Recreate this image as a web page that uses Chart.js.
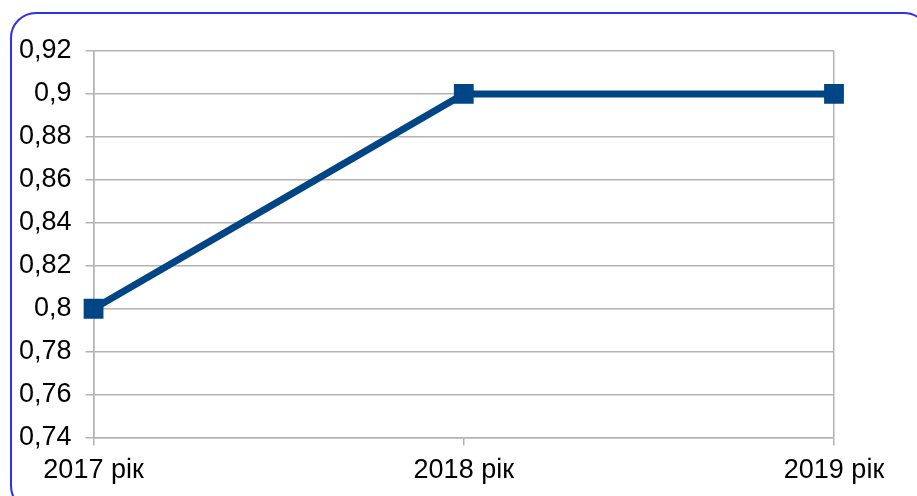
<!DOCTYPE html>
<html>
<head>
<meta charset="utf-8">
<script src="https://cdn.jsdelivr.net/npm/chart.js@4/dist/chart.umd.min.js"></script>
<style>
html,body{margin:0;padding:0;background:#fff;}
#wrap{position:relative;width:917px;height:496px;overflow:hidden;}
#frame{position:absolute;left:10px;top:12px;width:920px;height:500px;border:2px solid #3030e8;border-radius:26px;box-sizing:border-box;}
canvas{position:absolute;left:0;top:0;}
</style>
</head>
<body>
<div id="wrap">
<div id="frame"></div>
<canvas id="c" width="917" height="496"></canvas>
</div>
<script>
const categories = ['2017 рік', '2018 рік', '2019 рік'];
const values = [0.8, 0.9, 0.9];
const yTickLabels = ['0,74', '0,76', '0,78', '0,8', '0,82', '0,84', '0,86', '0,88', '0,9', '0,92'];
const yMin = 0.74, yMax = 0.92, yStep = 0.02;

const grid = '#b3b3b3';
const font = {family: '"Liberation Sans", Arial, sans-serif', size: 27};

new Chart(document.getElementById('c'), {
  type: 'line',
  data: {
    labels: categories,
    datasets: [{
      data: values,
      borderColor: '#004586',
      backgroundColor: '#004586',
      borderWidth: 7,
      pointStyle: 'rect',
      pointRadius: 14,
      pointHoverRadius: 14,
      pointBorderWidth: 0,
      tension: 0,
      fill: false
    }]
  },
  options: {
    responsive: false,
    animation: false,
    devicePixelRatio: 1,
    layout: {padding: {left: 5, right: 83, top: 51, bottom: 0}},
    plugins: {legend: {display: false}, tooltip: {enabled: false}},
    scales: {
      x: {
        offset: false,
        grid: {
          color: (c) => (c.index === 1 ? 'rgba(0,0,0,0)' : grid),
          tickColor: grid,
          tickLength: 8,
          lineWidth: 1.5
        },
        border: {color: grid, width: 1.5},
        ticks: {color: '#000', font: font, padding: 9, maxRotation: 0, autoSkip: false}
      },
      y: {
        min: yMin, max: yMax,
        grid: {color: grid, tickColor: grid, tickLength: 8, lineWidth: 1.5},
        border: {color: grid, width: 1.5},
        ticks: {
          stepSize: yStep,
          color: '#000',
          font: font,
          padding: 14,
          callback: (v, i) => yTickLabels[i]
        }
      }
    }
  }
});
</script>
</body>
</html>
